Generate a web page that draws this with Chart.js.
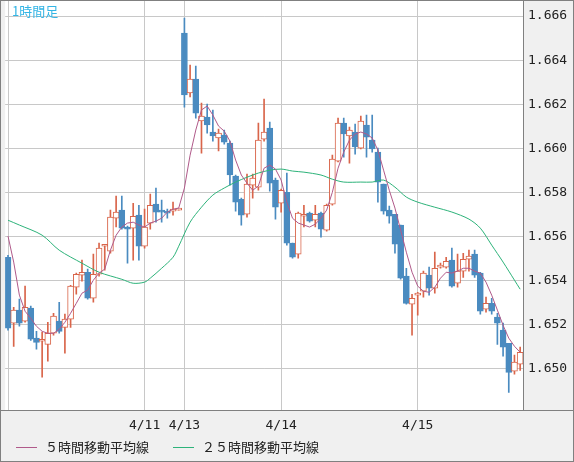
<!DOCTYPE html>
<html>
<head>
<meta charset="utf-8">
<script src="https://cdn.jsdelivr.net/npm/chart.js@4/dist/chart.umd.min.js"></script>
<style>
  body { margin: 0; background: #f0f0f0; }
  canvas { display: block; }
</style>
</head>
<body>
<canvas id="chart" width="574" height="462"></canvas>
<script>
// hourly candles
const opens = [1.65506,1.65207,1.65266,1.65216,1.65275,1.65139,1.65125,1.65111,1.65161,1.65216,
  1.65188,1.65225,1.65370,1.65425,1.65438,1.65320,1.65429,1.65556,1.65533,1.65683,
  1.65720,1.65643,1.65638,1.65697,1.65556,1.65661,1.65747,1.65720,1.65715,1.65715,
  1.65720,1.66523,1.66251,1.66314,1.66124,1.66142,1.66074,1.66047,1.66060,1.66024,
  1.65874,1.65769,1.65701,1.65833,1.65824,1.66042,1.66092,1.65856,1.65751,1.65801,
  1.65570,1.65520,1.65692,1.65706,1.65674,1.65706,1.65629,1.65747,1.65942,1.66115,
  1.66056,1.66074,1.66001,1.66106,1.66037,1.65983,1.65838,1.65720,1.65701,1.65652,
  1.65420,1.65293,1.65334,1.65352,1.65425,1.65366,1.65461,1.65461,1.65493,1.65388,
  1.65443,1.65497,1.65520,1.65434,1.65270,1.65297,1.65234,1.65175,1.65116,1.64989,1.65021];
const highs = [1.65515,1.65279,1.65316,1.65375,1.65284,1.65170,1.65166,1.65211,1.65252,1.65302,
  1.65248,1.65379,1.65434,1.65493,1.65452,1.65520,1.65570,1.65565,1.65720,1.65783,
  1.65783,1.65647,1.65751,1.65742,1.65724,1.65792,1.65820,1.65765,1.65724,1.65756,
  1.65724,1.66591,1.66378,1.66373,1.66205,1.66201,1.66174,1.66087,1.66083,1.66033,
  1.65879,1.65774,1.65883,1.65883,1.66115,1.66224,1.66119,1.65865,1.65815,1.65888,
  1.65570,1.65711,1.65742,1.65711,1.65742,1.65711,1.65747,1.65969,1.66137,1.66137,
  1.66097,1.66110,1.66146,1.66151,1.66151,1.66001,1.65838,1.65738,1.65701,1.65652,
  1.65456,1.65338,1.65347,1.65443,1.65461,1.65529,1.65479,1.65506,1.65547,1.65520,
  1.65524,1.65538,1.65538,1.65438,1.65325,1.65320,1.65252,1.65207,1.65116,1.65062,1.65098];
const lows = [1.65175,1.65102,1.65193,1.65211,1.65129,1.65089,1.64962,1.65034,1.65152,1.65161,
  1.65071,1.65188,1.65338,1.65397,1.65316,1.65302,1.65420,1.65447,1.65524,1.65643,
  1.65633,1.65479,1.65493,1.65493,1.65547,1.65633,1.65665,1.65665,1.65683,1.65697,
  1.65720,1.66187,1.66233,1.66137,1.65978,1.66069,1.66033,1.65988,1.66019,1.65833,
  1.65715,1.65652,1.65688,1.65774,1.65810,1.66033,1.65806,1.65679,1.65711,1.65561,
  1.65502,1.65502,1.65643,1.65665,1.65643,1.65597,1.65624,1.65742,1.65938,1.65960,
  1.65933,1.65974,1.65997,1.65960,1.65983,1.65756,1.65701,1.65661,1.65524,1.65406,
  1.65293,1.65152,1.65243,1.65325,1.65334,1.65343,1.65456,1.65456,1.65370,1.65370,
  1.65415,1.65443,1.65415,1.65248,1.65257,1.65248,1.65111,1.65057,1.64893,1.64975,1.64993];
const closes = [1.65184,1.65266,1.65207,1.65279,1.65134,1.65120,1.65134,1.65161,1.65239,1.65170,
  1.65225,1.65375,1.65429,1.65438,1.65320,1.65429,1.65547,1.65561,1.65688,1.65711,
  1.65638,1.65633,1.65692,1.65556,1.65643,1.65742,1.65711,1.65711,1.65706,1.65724,
  1.65724,1.66242,1.66314,1.66160,1.66146,1.66106,1.66056,1.66069,1.66028,1.65879,
  1.65756,1.65697,1.65838,1.65865,1.66037,1.66074,1.65842,1.65733,1.65810,1.65570,
  1.65506,1.65706,1.65697,1.65670,1.65701,1.65633,1.65742,1.65951,1.66115,1.66065,
  1.66083,1.66006,1.66124,1.66051,1.65997,1.65847,1.65715,1.65692,1.65565,1.65411,
  1.65297,1.65320,1.65343,1.65434,1.65366,1.65456,1.65465,1.65488,1.65375,1.65443,
  1.65497,1.65511,1.65425,1.65261,1.65297,1.65261,1.65207,1.65098,1.64984,1.65030,1.65075];

// moving averages
const ma5 = [1.65602,1.65484,1.65334,1.65261,1.65229,1.65193,1.65170,1.65161,1.65161,1.65179,
  1.65211,1.65252,1.65297,1.65343,1.65357,1.65402,1.65434,1.65452,1.65538,1.65606,
  1.65643,1.65661,1.65665,1.65652,1.65643,1.65661,1.65670,1.65683,1.65711,1.65724,
  1.65729,1.65820,1.65969,1.66083,1.66174,1.66192,1.66151,1.66101,1.66078,1.66033,
  1.65947,1.65879,1.65842,1.65810,1.65829,1.65910,1.65924,1.65906,1.65856,1.65756,
  1.65683,1.65661,1.65652,1.65643,1.65656,1.65683,1.65720,1.65801,1.65910,1.65983,
  1.66037,1.66065,1.66074,1.66065,1.66047,1.65992,1.65901,1.65810,1.65729,1.65629,
  1.65529,1.65438,1.65375,1.65352,1.65347,1.65370,1.65411,1.65438,1.65434,1.65443,
  1.65456,1.65456,1.65443,1.65434,1.65393,1.65334,1.65266,1.65197,1.65139,1.65102,1.65075];
const ma25Points = {1:1.65674,3:1.65652,7:1.65606,10:1.65538,14:1.65479,17:1.65438,21:1.65406,
  23:1.65388,25:1.65393,26:1.65411,28:1.65456,30:1.65506,31:1.65556,33:1.65665,35:1.65733,
  37:1.65788,39:1.65820,41:1.65847,43:1.65869,45:1.65888,47:1.65901,49:1.65906,51:1.65897,
  53:1.65892,56:1.65879,58:1.65860,60:1.65847,63:1.65847,65:1.65847,67:1.65856,69:1.65824,
  71:1.65779,73:1.65756,76:1.65733,79:1.65711,82:1.65679,84:1.65638,86:1.65561,88:1.65484,
  90:1.65402,91:1.65361};

// date labels sit on these candles
const dateLabels = {25: '4/11', 32: '4/13', 49: '4/14', 73: '4/15'};
const gridCandles = [1, 25, 32, 49, 73];
const yTicks = [1.650, 1.652, 1.654, 1.656, 1.658, 1.660, 1.662, 1.664, 1.666];

const UP = '#d9654a';
const DOWN = '#4a8bc0';

const labels = opens.map((o, i) => String(i + 1));
const isUp = opens.map((o, i) => closes[i] >= o);
const ma25 = labels.map((l, i) => ma25Points[i + 1] ?? null);

const frame = {
    id: 'frame',
    beforeDraw(chart) {
        const { ctx, chartArea: a } = chart;
        ctx.save();
        ctx.fillStyle = '#f0f0f0';
        ctx.fillRect(0, 0, chart.width, chart.height);
        ctx.fillStyle = '#ffffff';
        ctx.fillRect(a.left, a.top, a.right - a.left, a.bottom - a.top);
        ctx.restore();
    },
    afterDraw(chart) {
        const { ctx, chartArea: a } = chart;
        const y = chart.scales.y;
        ctx.save();
        ctx.strokeStyle = '#808080';
        ctx.lineWidth = 1;
        ctx.strokeRect(0.5, 0.5, chart.width - 1, chart.height - 1);
        ctx.beginPath();
        ctx.moveTo(a.right + 0.5, 0); ctx.lineTo(a.right + 0.5, a.bottom);
        ctx.moveTo(0, a.bottom + 0.5); ctx.lineTo(chart.width, a.bottom + 0.5);
        ctx.stroke();
        // price labels on the right
        ctx.fillStyle = '#222';
        ctx.font = '13px "DejaVu Sans Mono"';
        ctx.textBaseline = 'middle';
        yTicks.forEach(v => ctx.fillText(v.toFixed(3), a.right + 5, y.getPixelForValue(v)));
        // title
        ctx.fillStyle = '#33b5e5';
        ctx.font = '13px "Noto Sans CJK JP", sans-serif';
        ctx.fillText('1時間足', 12, 11);
        // legend
        ctx.font = '13px "Noto Sans CJK JP", sans-serif';
        ctx.fillStyle = '#222';
        const ly = 447;
        ctx.strokeStyle = '#b05a8a';
        ctx.beginPath(); ctx.moveTo(16, ly + 0.5); ctx.lineTo(37, ly + 0.5); ctx.stroke();
        ctx.fillText('５時間移動平均線', 45, ly);
        ctx.strokeStyle = '#2db37a';
        ctx.beginPath(); ctx.moveTo(173, ly + 0.5); ctx.lineTo(194, ly + 0.5); ctx.stroke();
        ctx.fillText('２５時間移動平均線', 202, ly);
        ctx.restore();
    }
};

new Chart(document.getElementById('chart'), {
    data: {
        labels: labels,
        datasets: [
            {
                type: 'line', label: 'ma5', data: ma5, order: 0,
                borderColor: '#b05a8a', borderWidth: 1, pointRadius: 0, tension: 0
            },
            {
                type: 'line', label: 'ma25', data: ma25, order: 0, spanGaps: true,
                borderColor: '#2db37a', borderWidth: 1, pointRadius: 0, tension: 0.3
            },
            {
                type: 'bar', label: 'body', order: 1, grouped: false,
                data: opens.map((o, i) => [o, closes[i]]),
                backgroundColor: isUp.map(u => u ? '#ffffff' : DOWN),
                borderColor: isUp.map(u => u ? UP : DOWN),
                borderWidth: 1, borderSkipped: false, barThickness: 6, minBarLength: 2
            },
            {
                type: 'bar', label: 'wick', order: 2, grouped: false,
                data: lows.map((l, i) => [l, highs[i]]),
                backgroundColor: isUp.map(u => u ? UP : DOWN),
                borderWidth: 0, barThickness: 1
            }
        ]
    },
    options: {
        responsive: false,
        animation: false,
        devicePixelRatio: 1,
        layout: { padding: 0 },
        plugins: { legend: { display: false }, tooltip: { enabled: false } },
        scales: {
            x: {
                offset: true,
                grid: {
                    offset: false,
                    color: ctx => gridCandles.includes(ctx.index + 1) ? '#c8c8c8' : 'rgba(0,0,0,0)',
                    drawTicks: false
                },
                border: { display: false },
                ticks: {
                    autoSkip: false, maxRotation: 0, padding: 8,
                    color: '#222', font: { family: 'DejaVu Sans Mono', size: 13 },
                    callback: (v, i) => dateLabels[i + 1] || ''
                },
                afterFit: s => { s.height = 52; }
            },
            y: {
                position: 'right',
                min: 1.64813, max: 1.66673,
                grid: { color: '#c8c8c8', drawTicks: false },
                border: { display: false },
                afterBuildTicks: s => { s.ticks = yTicks.map(v => ({ value: v })); },
                ticks: { display: false },
                afterFit: s => { s.width = 51; }
            }
        }
    },
    plugins: [frame]
});
</script>
</body>
</html>
